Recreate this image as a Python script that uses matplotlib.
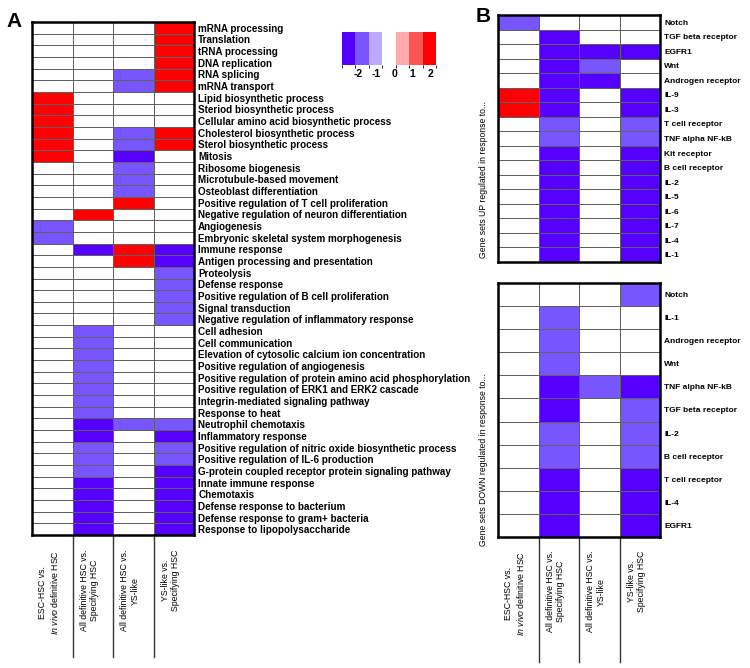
import numpy as np
import matplotlib
matplotlib.use('Agg')
import matplotlib.pyplot as plt
from matplotlib.colors import ListedColormap, BoundaryNorm
from matplotlib.cm import ScalarMappable
from matplotlib import transforms as mtrans

plt.rcParams['font.family'] = ['Liberation Sans', 'DejaVu Sans']
plt.rcParams['mathtext.fontset'] = 'custom'
plt.rcParams['mathtext.rm'] = 'Liberation Sans'
plt.rcParams['mathtext.it'] = 'Liberation Sans:italic'

# ---------------- data ----------------
comparisons = [r"ESC-HSC vs." + "\n" + r"$\mathit{In\ vivo}$ definitive HSC",
               "All definitive HSC vs.\nSpecifying HSC",
               "All definitive HSC vs.\nYS-like",
               "YS-like vs.\nSpecifying HSC"]

R, D, M = 2.0, -2.6, -1.8   # red (up), dark blue, medium blue

go_terms = ["mRNA processing", "Translation", "tRNA processing", "DNA replication",
            "RNA splicing", "mRNA transport", "Lipid biosynthetic process",
            "Steriod biosynthetic process", "Cellular amino acid biosynthetic process",
            "Cholesterol biosynthetic process", "Sterol biosynthetic process", "Mitosis",
            "Ribosome biogenesis", "Microtubule-based movement", "Osteoblast differentiation",
            "Positive regulation of T cell proliferation",
            "Negative regulation of neuron differentiation", "Angiogenesis",
            "Embryonic skeletal system morphogenesis", "Immune response",
            "Antigen processing and presentation", "Proteolysis", "Defense response",
            "Positive regulation of B cell proliferation", "Signal transduction",
            "Negative regulation of inflammatory response", "Cell adhesion",
            "Cell communication", "Elevation of cytosolic calcium ion concentration",
            "Positive regulation of angiogenesis",
            "Positive regulation of protein amino acid phosphorylation",
            "Positive regulation of ERK1 and ERK2 cascade",
            "Integrin-mediated signaling pathway", "Response to heat",
            "Neutrophil chemotaxis", "Inflammatory response",
            "Positive regulation of nitric oxide biosynthetic process",
            "Positive regulation of IL-6 production",
            "G-protein coupled receptor protein signaling pathway",
            "Innate immune response", "Chemotaxis", "Defense response to bacterium",
            "Defense response to gram+ bacteria", "Response to lipopolysaccharide"]

go_values = [[0, 0, 0, R], [0, 0, 0, R], [0, 0, 0, R], [0, 0, 0, R],
             [0, 0, M, R], [0, 0, M, R], [R, 0, 0, 0], [R, 0, 0, 0], [R, 0, 0, 0],
             [R, 0, M, R], [R, 0, M, R], [R, 0, D, 0],
             [0, 0, M, 0], [0, 0, M, 0], [0, 0, M, 0],
             [0, 0, R, 0], [0, R, 0, 0], [M, 0, 0, 0], [M, 0, 0, 0],
             [0, D, R, D], [0, 0, R, D],
             [0, 0, 0, M], [0, 0, 0, M], [0, 0, 0, M], [0, 0, 0, M], [0, 0, 0, M],
             [0, M, 0, 0], [0, M, 0, 0], [0, M, 0, 0], [0, M, 0, 0], [0, M, 0, 0],
             [0, M, 0, 0], [0, M, 0, 0], [0, M, 0, 0],
             [0, D, M, M], [0, D, 0, D], [0, M, 0, M], [0, M, 0, M], [0, M, 0, D],
             [0, D, 0, D], [0, D, 0, D], [0, D, 0, D], [0, D, 0, D], [0, D, 0, D]]

up_sets = ["Notch", "TGF beta receptor", "EGFR1", "Wnt", "Androgen receptor", "IL-9",
           "IL-3", "T cell receptor", "TNF alpha NF-kB", "Kit receptor", "B cell receptor",
           "IL-2", "IL-5", "IL-6", "IL-7", "IL-4", "IL-1"]
up_values = [[M, 0, 0, 0], [0, D, 0, 0], [0, D, D, D], [0, D, M, 0], [0, D, D, 0],
             [R, D, 0, D], [R, D, 0, D], [0, M, 0, M], [0, M, 0, M],
             [0, D, 0, D], [0, D, 0, D], [0, D, 0, D], [0, D, 0, D], [0, D, 0, D],
             [0, D, 0, D], [0, D, 0, D], [0, D, 0, D]]

down_sets = ["Notch", "IL-1", "Androgen receptor", "Wnt", "TNF alpha NF-kB",
             "TGF beta receptor", "IL-2", "B cell receptor", "T cell receptor", "IL-4", "EGFR1"]
down_values = [[0, 0, 0, M], [0, M, 0, 0], [0, M, 0, 0], [0, M, 0, 0], [0, D, M, D],
               [0, D, 0, M], [0, M, 0, M], [0, M, 0, M], [0, D, 0, D], [0, D, 0, D],
               [0, D, 0, D]]

cbar_ticks = [-2, -1, 0, 1, 2]

# ---------------- style ----------------
colors = ['#5500FF', '#7755FF', '#BBAAFF', '#FFFFFF', '#FFAAAA', '#FF5555', '#FF0000']
cmap = ListedColormap(colors)
bounds = np.linspace(-2.9, 2.3, 8)
norm = BoundaryNorm(bounds, cmap.N)

W, H = 750, 668
fig = plt.figure(figsize=(W / 100, H / 100), dpi=100)


def px_axes(left, top, right, bottom):
    return fig.add_axes([left / W, 1 - bottom / H, (right - left) / W, (bottom - top) / H])


def draw_heat(ax, values, labels, fs):
    arr = np.array(values, dtype=float)
    n = arr.shape[0]
    ax.pcolormesh(np.arange(5), np.arange(n + 1), arr, cmap=cmap, norm=norm,
                  edgecolors='#606060', linewidth=0.55)
    ax.set_xlim(0, 4)
    ax.set_ylim(n, 0)
    ax.set_xticks([])
    ax.yaxis.tick_right()
    ax.set_yticks(np.arange(n) + 0.5)
    ax.set_yticklabels(labels, fontsize=fs, fontweight='bold')
    ax.tick_params(axis='y', length=0, pad=3)
    for s in ax.spines.values():
        s.set_linewidth(1.8)
        s.set_color('black')
    return ax


def column_labels(ax, y_from, y_to, text_top):
    trans = mtrans.blended_transform_factory(ax.transData, fig.transFigure)
    for i in range(1, 4):
        ax.plot([i, i], [1 - y_from / H, 1 - y_to / H], color='#333333', lw=1.0,
                transform=trans, clip_on=False)
    for i, lab in enumerate(comparisons):
        ax.text(i + 0.42, 1 - text_top / H, lab, transform=trans, rotation=90,
                ha='center', va='top', fontsize=6.3, multialignment='center')


# Panel A
axA = px_axes(32, 22, 194, 535)
draw_heat(axA, go_values, go_terms, 7.1)
column_labels(axA, 535, 657, 550)

# Panel B top / bottom
axB1 = px_axes(498, 15, 660, 262)
draw_heat(axB1, up_values, up_sets, 6)
axB2 = px_axes(498, 283, 660, 537)
draw_heat(axB2, down_values, down_sets, 6)
column_labels(axB2, 537, 662, 551)

fig.text(483 / W, 1 - 180 / H, "Gene sets UP regulated in response to...", rotation=90,
         ha='center', va='center', fontsize=6.2)
fig.text(483 / W, 1 - 460 / H, "Gene sets DOWN regulated in response to...", rotation=90,
         ha='center', va='center', fontsize=6.2)

fig.text(6 / W, 1 - 27 / H, "A", fontsize=15, fontweight='bold', ha='left', va='baseline')
fig.text(476 / W, 1 - 22 / H, "B", fontsize=15, fontweight='bold', ha='left', va='baseline')

# colour bar
cax = px_axes(342, 32, 436, 65)
sm = ScalarMappable(norm=norm, cmap=cmap)
cb = fig.colorbar(sm, cax=cax, orientation='horizontal', ticks=cbar_ticks)
cb.outline.set_visible(False)
cax.tick_params(length=0, labelsize=7.5, pad=3)
cax.set_xticklabels([str(t) for t in cbar_ticks], fontweight='bold')

fig.savefig('out.png', dpi=100)
